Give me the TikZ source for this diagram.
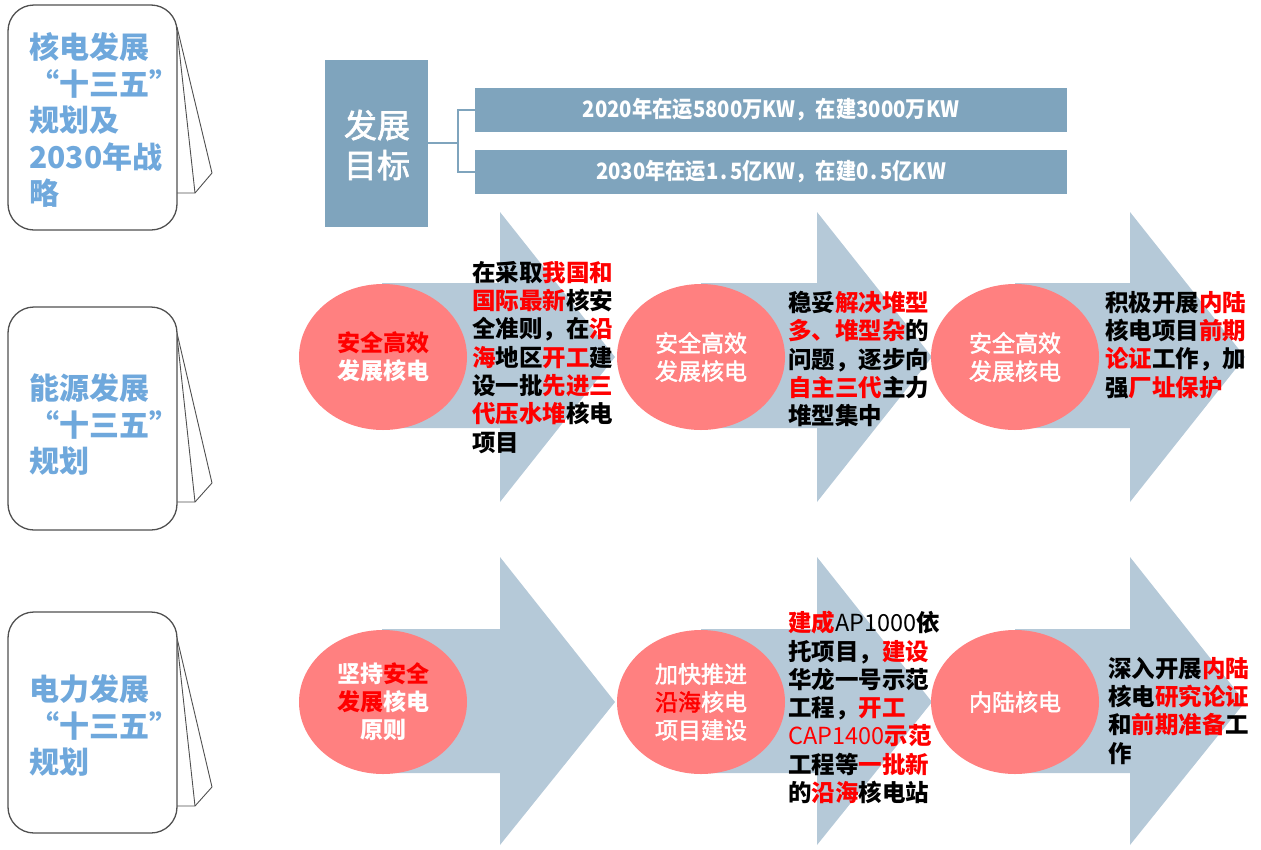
\documentclass[tikz,border=0pt]{standalone}
\usepackage{fontspec}
\usepackage{graphicx}
\usetikzlibrary{shapes.geometric}
\newfontfamily\cjk{Noto Sans CJK SC}
\newfontfamily\cjkm[FakeBold=2]{Noto Sans CJK SC}
\definecolor{nbtext}{RGB}{111,168,220}
\definecolor{goalbox}{RGB}{127,164,189}
\definecolor{arrowc}{RGB}{181,201,216}
\definecolor{ellc}{RGB}{255,128,128}
\definecolor{nbline}{RGB}{80,80,80}
\newcommand\redt[1]{\textcolor{red}{#1}}
\newcommand\dotsp{\kern2.5pt.\kern2.5pt}
\tikzset{
  nb/.style={draw=nbline, line width=1.3pt, rounded corners=26pt, fill=white},
  flap/.style={draw=nbline, line width=0.9pt, fill=white, line join=round},
  nbtxt/.style={anchor=north west, inner sep=0pt, align=left, text=nbtext, font=\cjk\bfseries\fontsize{30}{36.5}\selectfont},
  goal/.style={fill=goalbox, draw=none},
  bar/.style={fill=goalbox, draw=none, minimum width=592pt, minimum height=44pt, inner sep=0pt, text=white, font=\cjk\bfseries\fontsize{22.5}{24}\selectfont},
  brk/.style={draw=goalbox, line width=2pt},
  arr/.style={fill=arrowc, draw=none},
  ell/.style={ellipse, fill=ellc, draw=none, minimum width=168pt, minimum height=146pt, inner sep=0pt, align=center, text=white, font=\cjkm\fontsize{23}{28}\selectfont},
  ellb/.style={ell, font=\cjk\bfseries\fontsize{23}{28}\selectfont},
  blk/.style={anchor=north west, inner sep=0pt, align=left, text=black, font=\cjk\bfseries\fontsize{23.5}{28.3}\selectfont},
}
\begin{document}
\begin{tikzpicture}[x=1pt,y=-1pt]
\useasboundingbox (0,0) rectangle (1261,849);
% ---------- notebooks ----------
\draw[flap] (177,27) -- (212,173) -- (195,193) -- (177,193);
\draw[flap] (177,30) -- (195,193);
\draw[nb] (8,5) rectangle (177,230);
\node[nbtxt] (nb1) at (29,32.5) {核电发展\\“十三五”\\规划及\\2030年战\\略};

\draw[flap] (177,333) -- (212,483) -- (195,502) -- (177,502);
\draw[flap] (177,336) -- (195,502);
\draw[nb] (8,307) rectangle (177,530);
\node[nbtxt] (nb2) at (29,373.5) {能源发展\\“十三五”\\规划};

\draw[flap] (177,638) -- (212,787) -- (195,806) -- (177,806);
\draw[flap] (177,641) -- (195,806);
\draw[nb] (8,612) rectangle (177,833);
\node[nbtxt] (nb3) at (29,674.5) {电力发展\\“十三五”\\规划};

% ---------- goals ----------
\fill[goal] (325,60) rectangle (428,227);
\node[text=white, align=center, inner sep=0pt, font=\cjkm\fontsize{33}{40}\selectfont] (goal) at (377,145) {发展\\目标};
\coordinate (gr) at (428,143);
\node[bar] (b1) at (771,110) {\scalebox{0.9}[1]{2020年在运5800万KW，在建3000万KW}};
\node[bar] (b2) at (771,172) {\scalebox{0.9}[1]{2030年在运1\dotsp5亿KW，在建0\dotsp5亿KW}};
\coordinate (jn) at (458,143);
\draw[brk] (gr) -- (jn);
\draw[brk] (b1.west) -| (jn) |- (b2.west);

% ---------- row 1 arrows ----------
\fill[arr] (382,283) -- (500,283) -- (500,212) -- (615,357) -- (500,502) -- (500,428) -- (382,428) -- cycle;
\fill[arr] (701,283) -- (817,283) -- (817,212) -- (932,357) -- (817,502) -- (817,428) -- (701,428) -- cycle;
\fill[arr] (1015,283) -- (1130,283) -- (1130,212) -- (1245,357) -- (1130,502) -- (1130,428) -- (1015,428) -- cycle;
\node[ellb] (e11) at (383,357) {\redt{安全高效}\\发展核电};
\node[ell] (e12) at (701,357) {安全高效\\发展核电};
\node[ell] (e13) at (1015,357) {安全高效\\发展核电};

\node[blk] (t11) at (472,261) {在采取\redt{我国和}\\\redt{国际最新}核安\\全准则，在\redt{沿}\\\redt{海}地区\redt{开工}建\\设一批\redt{先进三}\\\redt{代压水堆}核电\\项目};
\node[blk] (t12) at (788,291) {稳妥\redt{解决堆型}\\\redt{多、堆型杂}的\\问题，逐步向\\\redt{自主三代}主力\\堆型集中};
\node[blk] (t13) at (1105,291) {积极开展\redt{内陆}\\核电项目\redt{前期}\\\redt{论证}工作，加\\强\redt{厂址保护}};

% ---------- row 2 arrows ----------
\fill[arr] (382,629) -- (500,629) -- (500,557) -- (615,702) -- (500,845) -- (500,773) -- (382,773) -- cycle;
\fill[arr] (701,629) -- (817,629) -- (817,557) -- (932,702) -- (817,845) -- (817,773) -- (701,773) -- cycle;
\fill[arr] (1015,629) -- (1130,629) -- (1130,557) -- (1245,702) -- (1130,845) -- (1130,773) -- (1015,773) -- cycle;
\node[ellb, minimum height=144pt] (e21) at (383,702) {坚持\redt{安全}\\\redt{发展}核电\\原则};
\node[ell, minimum height=144pt] (e22) at (701,702) {加快推进\\\redt{沿海}核电\\项目建设};
\node[ell, minimum height=144pt] (e23) at (1015,702) {内陆核电};

\node[blk] (t22) at (788,611) {\redt{建成}{\mdseries AP1000}依\\托项目，\redt{建设}\\华龙一号示范\\工程，\redt{开工}\\\redt{{\mdseries CAP1400}示范}\\工程等\redt{一批新}\\的\redt{沿海}核电站};
\node[blk] (t23) at (1108,657) {深入开展\redt{内陆}\\核电\redt{研究论证}\\和\redt{前期准备}工\\作};
\end{tikzpicture}
\end{document}
